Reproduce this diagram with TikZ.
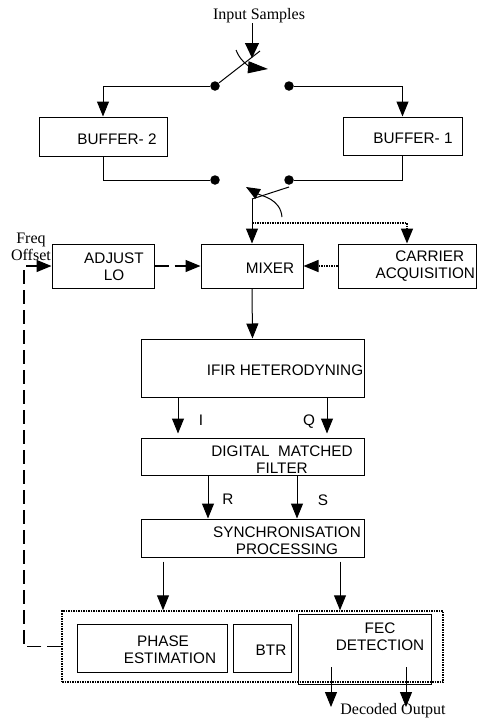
\documentclass[tikz,border=0pt]{standalone}
\usepackage{fontspec}
\setmainfont{Liberation Serif}
\newfontfamily\boxfont{Liberation Sans}
\usetikzlibrary{arrows.meta}
\begin{document}
\begin{tikzpicture}[x=1pt,y=-1pt,line width=1pt,
  box/.style={draw,line width=1pt,inner sep=0pt},
  btxt/.style={font=\boxfont\fontsize{15.3}{17}\selectfont,align=center,inner sep=0pt},
  stxt/.style={font=\fontsize{16}{17}\selectfont,align=center,inner sep=0pt},
  dot/.style={circle,fill,inner sep=0pt,minimum size=9.5pt},
  arr/.style={-{Triangle[length=15pt,width=12pt]}},
  sarr/.style={-{Triangle[length=20pt,width=12pt]}},
  dotline/.style={densely dotted,line width=1.5pt},
  dashline/.style={dash pattern=on 14pt off 6pt,line width=1.3pt}]
\useasboundingbox (0,0) rectangle (477,718);
% boxes
\node[box,minimum width=128pt,minimum height=39pt] (buf2) at (103,136.5) {};
\node[box,minimum width=119pt,minimum height=38pt] (buf1) at (402.5,136) {};
\node[box,minimum width=102pt,minimum height=44pt] (adj) at (103,266) {};
\node[box,minimum width=102pt,minimum height=44pt] (mix) at (252,266) {};
\node[box,minimum width=138pt,minimum height=44pt] (car) at (407,266) {};
\node[box,minimum width=223pt,minimum height=58pt] (ifir) at (252.5,368) {};
\node[box,minimum width=223pt,minimum height=37pt] (dmf) at (252.5,456.5) {};
\node[box,minimum width=223pt,minimum height=38pt] (sync) at (252.5,538) {};
\node[draw,dotline,inner sep=0pt,minimum width=381pt,minimum height=71pt] (outer) at (252.5,646.5) {};
\node[box,minimum width=150pt,minimum height=48pt] (phase) at (152,648) {};
\node[box,minimum width=58pt,minimum height=48pt] (btr) at (262,648) {};
\node[box,minimum width=133pt,minimum height=70pt] (fec) at (364.5,649) {};
% texts
\node[btxt] (tb2) at (117,139) {BUFFER- 2};
\node[btxt] (tb1) at (413,138) {BUFFER- 1};
\node[btxt] (tadj) at (114,266.5) {ADJUST\\LO\hspace{12pt}};
\node[btxt] (tmix) at (270,268) {MIXER};
\node[btxt,anchor=east] (tcar) at (475.5,266) {\hspace{9pt}CARRIER\\ACQUISITION};
\node[btxt] (tifir) at (285,370) {IFIR HETERODYNING};
\node[btxt] (tdmf) at (282,459.5) {DIGITAL\ \ MATCHED\\FILTER\hspace{34pt}};
\node[btxt] (tsync) at (287,540.5) {SYNCHRONISATION\\PROCESSING\hspace{16pt}};
\node[btxt] (tphase) at (170,649.5) {\hspace{-14pt}PHASE\\ESTIMATION};
\node[btxt] (tbtr) at (271,650) {BTR};
\node[btxt] (tfec) at (380,636.5) {FEC\\DETECTION};
\node[btxt] (tI) at (201,420) {I};
\node[btxt] (tQ) at (309,422) {Q};
\node[btxt] (tR) at (228,499) {R};
\node[btxt] (tS) at (323,500) {S};
\node[stxt] (tin) at (259,16) {Input Samples};
\node[stxt] (tfreq) at (31,247) {Freq\\Offset};
\node[stxt] (tdec) at (393,711) {Decoded Output};
% dots
\node[dot] (dL1) at (215,86) {};
\node[dot] (dR1) at (289,86) {};
\node[dot] (dL2) at (215,180) {};
\node[dot] (dR2) at (289,180) {};
% coordinates
\coordinate (inS) at (252,23);
\coordinate (inE) at (252,58);
\coordinate (bl1) at (260,51);
\coordinate (a1s) at (236,50);
\coordinate (a1e) at (268,69);
\coordinate (bl2s) at (289,187);
\coordinate (bl2e) at (252,199);
\coordinate (a2s) at (282,217);
\coordinate (a2e) at (246,187);
\coordinate (br) at (252,223);
\coordinate (fb) at (24,266);
\coordinate (xI) at (178,0);
\coordinate (xQ) at (327,0);
\coordinate (xR) at (208,0);
\coordinate (xS) at (297,0);
\coordinate (xP) at (163,0);
\coordinate (xF) at (340,0);
\coordinate (do1s) at (331,667);
\coordinate (do1e) at (331,707);
\coordinate (do2s) at (406,667);
\coordinate (do2e) at (406,707);
% top switch
\draw[-{Triangle[length=15pt,width=14pt]}] (inS) -- (inE);
\draw (dL1) -- (bl1);
\draw[sarr] (a1s) to[out=-70,in=175] (a1e);
\draw[arr] (dL1) -| (buf2.north);
\draw[arr] (dR1) -| (buf1.north);
% bottom switch
\draw (buf2.south) |- (dL2);
\draw (buf1.south) |- (dR2);
\draw (bl2s) -- (bl2e);
\draw[arr] (bl2e) -- (mix.north);
\draw[-{Triangle[length=14pt,width=11pt]}] (a2s) to[out=95,in=-30] (a2e);
\draw[dotline,arr] (br) -| (car.north);
% middle row
\draw[dashline,arr] (adj.east) -- (mix.west);
\draw[dotline,arr] (car.west) -- (mix.east);
\draw[arr] (mix.south) -- (ifir.north);
% chain
\draw[arr,shorten >=4pt] (ifir.south -| xI) -- (dmf.north -| xI);
\draw[arr,shorten >=4pt] (ifir.south -| xQ) -- (dmf.north -| xQ);
\draw[arr] (dmf.south -| xR) -- (sync.north -| xR);
\draw[arr] (dmf.south -| xS) -- (sync.north -| xS);
\draw[arr,shorten <=4pt] (sync.south -| xP) -- (outer.north -| xP);
\draw[arr,shorten <=4pt] (sync.south -| xF) -- (outer.north -| xF);
% feedback
\draw[dashline,arr] (outer.west) -| (fb) -- (adj.west);
% decoded outputs
\draw[arr] (do1s) -- (do1e);
\draw[arr] (do2s) -- (do2e);
\end{tikzpicture}
\end{document}
